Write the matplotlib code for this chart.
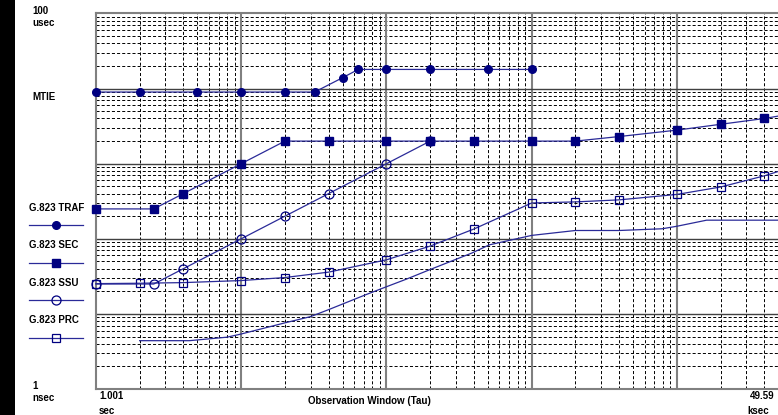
import matplotlib
matplotlib.use("Agg")
import matplotlib.pyplot as plt
from matplotlib.lines import Line2D
from matplotlib.patches import Rectangle

plt.rcParams["lines.scale_dashes"] = False
plt.rcParams["font.family"] = ["Liberation Sans", "DejaVu Sans"]

# Observation window tau (s) and MTIE (ns) for each G.823 mask
tau_traf = [1, 2, 5, 10, 20, 32, 50, 64, 100, 200, 500, 1000]
mtie_traf = [9000, 9000, 9000, 9000, 9000, 9000, 14000, 18000, 18000, 18000, 18000, 18000]

tau_sec = [1, 2.5, 4, 10, 20, 40, 100, 200, 400, 1000, 2000, 4000, 10000, 20000, 40000, 49590]
mtie_sec = [250, 250, 400, 1000, 2000, 2000, 2000, 2000, 2000, 2000, 2000, 2300, 2800, 3350, 4000, 4300]

tau_ssu = [1, 2.5, 4, 10, 20, 40, 100, 200]
mtie_ssu = [25, 25, 40, 100, 200, 400, 1000, 2000]

tau_prc = [1, 2, 4, 10, 20, 40, 100, 200, 400, 1000, 2000, 4000, 10000, 20000, 40000, 49590]
mtie_prc = [25.3, 25.6, 26.1, 27.8, 30.5, 36, 52.5, 80, 135, 300, 310, 330, 390, 490, 690, 786]

# Measured MTIE curve
tau_meas = [2, 4.4, 8, 10, 20, 30, 40, 72, 100, 137, 200, 390, 510, 1000, 2000, 4000, 7900, 10000, 16000, 49590]
mtie_meas = [4.4, 4.4, 4.9, 5.4, 7.6, 9.2, 11.4, 18, 23, 29, 39, 65, 83, 111, 129, 129, 136, 147, 177, 177]

legend_names = ["G.823 TRAF", "G.823 SEC", "G.823 SSU", "G.823 PRC"]

W, H = 778, 415
fig = plt.figure(figsize=(W / 100, H / 100), dpi=100)
fig.patch.set_facecolor("white")
fig.add_artist(Rectangle((0, 0), 15 / W, 1, transform=fig.transFigure,
                         facecolor="black", edgecolor="none"))

ax = fig.add_axes([96 / W, (H - 389) / H, 682 / W, 375.5 / H])
ax.set_xscale("log")
ax.set_yscale("log")
ax.set_xlim(1.001, 49590)
ax.set_ylim(1, 1e5)
ax.tick_params(which="both", length=0, labelbottom=False, labelleft=False)
for side in ["left", "top", "bottom"]:
    ax.spines[side].set_color("#808080")
    ax.spines[side].set_linewidth(1.5)
ax.spines["right"].set_visible(False)

dash = (0, (2.2, 1.5))
for d in range(5):
    for k in range(2, 10):
        x = k * 10 ** d
        if x < 49590:
            ax.axvline(x, color="black", lw=0.7, ls=dash, zorder=1)
        ax.axhline(k * 10 ** d, color="black", lw=0.7, ls=dash, zorder=1)
for d in range(1, 5):
    ax.axvline(10 ** d, color="#808080", lw=1.5, zorder=1.5)
    ax.axhline(10 ** d, color="#404040", lw=1.0, zorder=1.5)

line_c = "#2a2a98"
mark_c = "#000080"

ax.plot(tau_meas, mtie_meas, color=line_c, lw=0.9, zorder=3)
ax.plot(tau_prc, mtie_prc, color=line_c, lw=0.9, marker="s", ms=6,
        mfc="none", mec=mark_c, mew=0.9, markevery=list(range(len(tau_prc) - 1)),
        clip_on=False, zorder=4)
ax.plot(tau_ssu, mtie_ssu, color=line_c, lw=0.9, marker="o", ms=6.5,
        mfc="none", mec=mark_c, mew=0.9, clip_on=False, zorder=4)
ax.plot(tau_sec, mtie_sec, color=line_c, lw=0.9, marker="s", ms=6,
        mfc=mark_c, mec=mark_c, markevery=list(range(len(tau_sec) - 1)),
        clip_on=False, zorder=5)
ax.plot(tau_traf, mtie_traf, color=line_c, lw=0.9, marker="o", ms=5.5,
        mfc=mark_c, mec=mark_c, clip_on=False, zorder=5)


def fy(y):
    return 1 - y / H


def txt(x, y, s, ha="left"):
    fig.text(x / W, fy(y), s, ha=ha, va="center", fontsize=7, fontweight="bold")


txt(32, 11, "100")
txt(32, 23, "usec")
txt(32, 97, "MTIE")
txt(32, 386, "1")
txt(32, 398, "nsec")
txt(99, 396, "1.001")
txt(99, 411, "sec")
txt(775, 396, "49.59", ha="right")
txt(769, 411, "ksec", ha="right")
txt(369, 401, "Observation Window (Tau)", ha="center")

legend_styles = [
    dict(marker="o", ms=5.5, mfc=mark_c, mec=mark_c),
    dict(marker="s", ms=6, mfc=mark_c, mec=mark_c),
    dict(marker="o", ms=6.5, mfc="none", mec=mark_c, mew=0.9),
    dict(marker="s", ms=6, mfc="none", mec=mark_c, mew=0.9),
]
label_y = [208, 245, 283, 320]
sample_y = [224.5, 262.5, 299.5, 337.5]
for name, st, ly, sy in zip(legend_names, legend_styles, label_y, sample_y):
    txt(29, ly, name)
    fig.add_artist(Line2D([29 / W, 83 / W], [fy(sy), fy(sy)], color=line_c,
                          lw=0.9, transform=fig.transFigure))
    fig.add_artist(Line2D([56 / W], [fy(sy)], linestyle="none",
                          transform=fig.transFigure, **st))

fig.savefig("out.png", dpi=100)
